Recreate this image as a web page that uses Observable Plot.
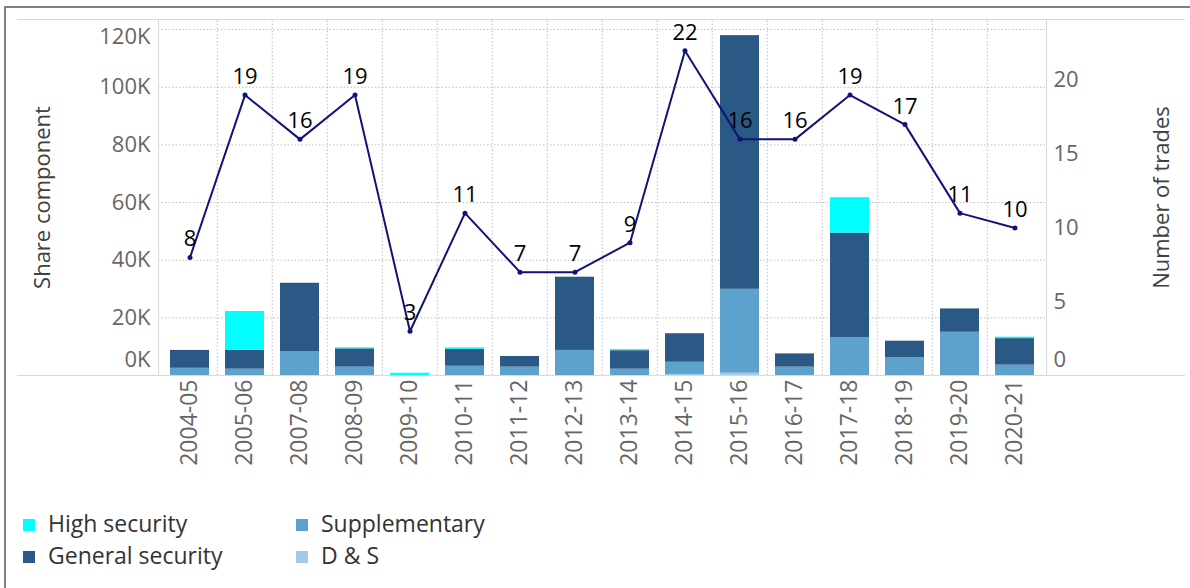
<!DOCTYPE html>
<html><head><meta charset="utf-8">
<script src="https://cdn.jsdelivr.net/npm/d3@7"></script>
<script src="https://cdn.jsdelivr.net/npm/@observablehq/plot@0.6"></script>
<style>
body{margin:0;background:#fff;font-family:"Open Sans",sans-serif;}
#wrap{position:relative;width:1190px;height:588px;overflow:hidden;background:#fff;}
#border{position:absolute;left:4px;top:6px;width:1200px;height:600px;border-left:2px solid #808080;border-top:2px solid #808080;}
#chart{position:absolute;left:0;top:0;}
.leg{position:absolute;font-size:23px;color:#333;line-height:30px;white-space:nowrap;}
.leg span{display:inline-block;width:12px;height:12px;margin-right:13px;vertical-align:1px;}
</style></head>
<body><div id="wrap"><div id="border"></div><div id="chart"></div>
<div id="legend"></div></div>
<script>
const years = ["2004-05","2005-06","2007-08","2008-09","2009-10","2010-11","2011-12","2012-13","2013-14","2014-15","2015-16","2016-17","2017-18","2018-19","2019-20","2020-21"];
const series = ["D & S","Supplementary","General security","High security"];
const colors = ["#9fcbe8","#5ca2cd","#2b5985","#00ffff"];
// values in thousands
const dsValues = [0,0,0,0,0,0,0,0,0,0.3,0.8,0,0,0,0,0];
const supplementary = [2.5,2.2,8.3,2.9,0,3.2,2.9,8.7,2.2,4.3,29.1,2.9,13.1,6.2,15.0,3.6];
const generalSecurity = [6.2,6.5,23.7,6.35,0,5.9,3.7,25.4,6.4,9.9,88.0,4.6,36.3,5.7,8.1,9.2];
const highSecurity = [0,13.5,0,0.35,0.8,0.5,0,0,0.4,0,0,0,12.3,0,0,0.5];
const trades = [8,19,16,19,3,11,7,7,9,22,16,16,19,17,11,10];
const leftTicks = [0,20000,40000,60000,80000,100000,120000];
const rightTicks = [0,5,10,15,20];

const K = 5120; // trades -> share-component units (dual axis)
const seriesValues = [dsValues, supplementary, generalSecurity, highSecurity];
const rows = [];
years.forEach((yr,i)=>series.forEach((s,j)=>rows.push({year:yr, series:s, value:seriesValues[j][i]*1000})));
const pts = years.map((yr,i)=>({year:yr, t:trades[i], v:trades[i]*K}));

const W=1190, H=480, ML=158, MR=144, MT=19, MB=105;
const step = (W-ML-MR)/years.length;
const grid = {stroke:"#bdbdbd", strokeDasharray:"1.5,2", strokeOpacity:1};
const tickStyle = {tickSize:0, fill:"#666", fontSize:22, label:null};

const chart = Plot.plot({
  width:W, height:H, marginLeft:ML, marginRight:MR, marginTop:MT, marginBottom:MB,
  style:{fontFamily:"Open Sans", fontSize:"22px", background:"transparent"},
  x:{type:"band", domain:years, paddingInner:0.3, paddingOuter:0.15},
  y:{domain:[0,123500]},
  color:{domain:series, range:colors},
  marks:[
    Plot.gridY(leftTicks.slice(1), grid),
    Plot.ruleX(years.slice(1), {dx:-step/2, y1:0, y2:123500, ...grid}),
    Plot.frame({stroke:"#d9d9d9"}),
    Plot.ruleY([0,123500], {insetLeft:-141, insetRight:-139, stroke:"#d9d9d9"}),
    Plot.barY(rows, {x:"year", y:"value", fill:"series", order:series}),
    Plot.line(pts, {x:"year", y:"v", stroke:"#12127a", strokeWidth:2}),
    Plot.dot(pts, {x:"year", y:"v", r:2.5, fill:"#12127a"}),
    Plot.text(pts, {x:"year", y:"v", text:"t", dy:-18, fontSize:22, fill:"#000"}),
    Plot.axisX({...tickStyle, tickRotate:-90, tickPadding:4, fontSize:23}),
    Plot.axisY(leftTicks.slice(1,-1), {...tickStyle, tickPadding:8, tickFormat:d=>d/1000+"K"}),
    Plot.axisY([0], {...tickStyle, tickPadding:8, dy:-16, tickFormat:d=>d/1000+"K"}),
    Plot.axisY([120000], {...tickStyle, tickPadding:8, dy:7, tickFormat:d=>d/1000+"K"}),
    Plot.axisY(rightTicks.slice(1).map(t=>t*K), {...tickStyle, anchor:"right", tickPadding:7, tickFormat:d=>Math.round(d/K)}),
    Plot.axisY([0], {...tickStyle, anchor:"right", tickPadding:7, dy:-16, tickFormat:()=>"0"}),
    Plot.text(["Share component"], {frameAnchor:"left", rotate:-90, dx:-116, textAnchor:"middle", fontSize:22, fill:"#404040"}),
    Plot.text(["Number of trades"], {frameAnchor:"right", rotate:-90, dx:115, textAnchor:"middle", fontSize:22, fill:"#404040"})
  ]
});
document.getElementById("chart").appendChild(chart);

const legendItems = [["High security",3,23,508],["Supplementary",1,296,508],["General security",2,23,540],["D & S",0,296,540]];
const lg = document.getElementById("legend");
legendItems.forEach(([name,ci,x,y])=>{
  const d=document.createElement("div"); d.className="leg";
  d.style.left=x+"px"; d.style.top=y+"px";
  d.innerHTML=`<span style="background:${colors[ci]}"></span>${name}`;
  lg.appendChild(d);
});
</script></body></html>
